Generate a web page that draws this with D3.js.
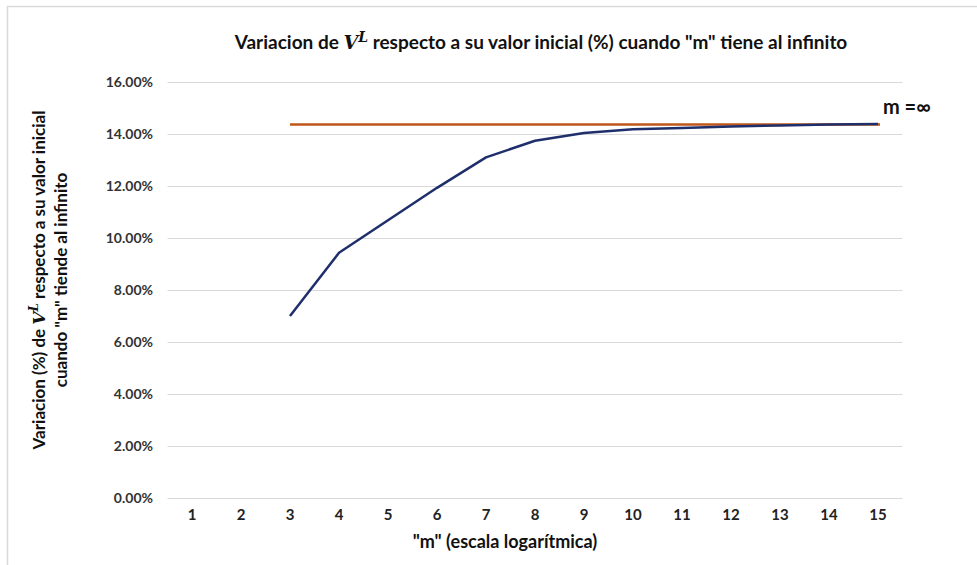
<!DOCTYPE html>
<html lang="es">
<head>
<meta charset="utf-8">
<title>Variacion de V^L</title>
<script src="https://d3js.org/d3.v7.min.js"></script>
<style>
  body { margin: 0; background: #fff; }
  text { font-family: Lato, "Open Sans", sans-serif; font-weight: bold; }
</style>
</head>
<body>
<script>
// data
var categories = [1, 2, 3, 4, 5, 6, 7, 8, 9, 10, 11, 12, 13, 14, 15];
var variation = [null, null, 0.0700, 0.0943, 0.1068, 0.1193, 0.1310, 0.1374, 0.1404, 0.1418, 0.1423, 0.1429, 0.1433, 0.1437, 0.1438];
var limitCats = [3, 15];
var limitValue = 0.1437;
var yTicks = [0, 0.02, 0.04, 0.06, 0.08, 0.10, 0.12, 0.14, 0.16];

var w = 977, h = 565;
var svg = d3.select("body").append("svg").attr("width", w).attr("height", h);
svg.append("rect").attr("width", w).attr("height", h).attr("fill", "white");

// outer frame
svg.append("path").attr("d", "M7.5,565 V6.5 H977")
  .attr("fill", "none").attr("stroke", "#d9d9d9").attr("stroke-width", 1.5);

var x = d3.scaleBand().domain(categories).range([167.5, 902.5]).padding(0);
var y = d3.scaleLinear().domain([0, 0.16]).range([498, 82]);
var cx = function(c) { return x(c) + x.bandwidth() / 2; };

// gridlines
svg.append("g").selectAll("line").data(yTicks).join("line")
  .attr("x1", 167.5).attr("x2", 902.5)
  .attr("y1", d => Math.round(y(d)) + 0.5).attr("y2", d => Math.round(y(d)) + 0.5)
  .attr("stroke", "#d9d9d9").attr("stroke-width", 1);

// y tick labels
var fmt = d3.format(".2f");
svg.append("g").selectAll("text").data(yTicks).join("text")
  .attr("x", 153).attr("y", d => y(d) + 5)
  .attr("text-anchor", "end").attr("font-size", 14).attr("fill", "#333")
  .text(d => fmt(d * 100) + "%");

// x tick labels
var xAxis = d3.axisBottom(x).tickSize(0).tickPadding(11);
var gx = svg.append("g").attr("transform", "translate(0,498)").call(xAxis);
gx.select(".domain").remove();
gx.selectAll("text").attr("font-size", 15).attr("fill", "#222")
  .style("font-family", "Lato, sans-serif").style("font-weight", "bold");

// limit line (m = infinito)
svg.append("line")
  .attr("x1", cx(limitCats[0])).attr("x2", cx(limitCats[1]) + 2)
  .attr("y1", y(limitValue)).attr("y2", y(limitValue))
  .attr("stroke", "#c0571a").attr("stroke-width", 2.5);

// series
var pts = categories.map((c, i) => [c, variation[i]]).filter(d => d[1] != null);
svg.append("path").datum(pts)
  .attr("fill", "none").attr("stroke", "#1f2f6b").attr("stroke-width", 2.5)
  .attr("stroke-linejoin", "round")
  .attr("d", d3.line().x(d => cx(d[0])).y(d => y(d[1])));

svg.append("text").attr("x", 883).attr("y", 114).attr("font-size", 20).attr("fill", "#111")
  .text("m =\u221e");

// title
var t = svg.append("text").attr("x", 541).attr("y", 49).attr("text-anchor", "middle")
  .attr("font-size", 19).attr("fill", "#111");
t.append("tspan").text("Variacion de ");
t.append("tspan").style("font-family", "DejaVu Serif, serif").style("font-style", "italic").text("V");
t.append("tspan").attr("dy", -7).attr("font-size", 14).style("font-family", "DejaVu Serif, serif").style("font-style", "italic").text("L");
t.append("tspan").attr("dy", 7).text(" respecto a su valor inicial (%) cuando \"m\" tiene al infinito");

// x axis title
svg.append("text").attr("x", 505).attr("y", 548).attr("text-anchor", "middle")
  .attr("font-size", 18).attr("fill", "#111").text("\"m\" (escala logarítmica)");

// y axis title (two lines, rotated)
var yt = svg.append("text").attr("transform", "translate(45,280) rotate(-90)")
  .attr("text-anchor", "middle").attr("font-size", 17).attr("fill", "#111");
yt.append("tspan").attr("x", 0).text("Variacion (%) de ");
yt.append("tspan").style("font-family", "DejaVu Serif, serif").style("font-style", "italic").text("V");
yt.append("tspan").attr("dy", -7).attr("font-size", 12).style("font-family", "DejaVu Serif, serif").style("font-style", "italic").text("L");
yt.append("tspan").attr("dy", 7).text(" respecto a su valor inicial");
yt.append("tspan").attr("x", 0).attr("dy", 22).text("cuando \"m\" tiende al infinito");
</script>
</body>
</html>
